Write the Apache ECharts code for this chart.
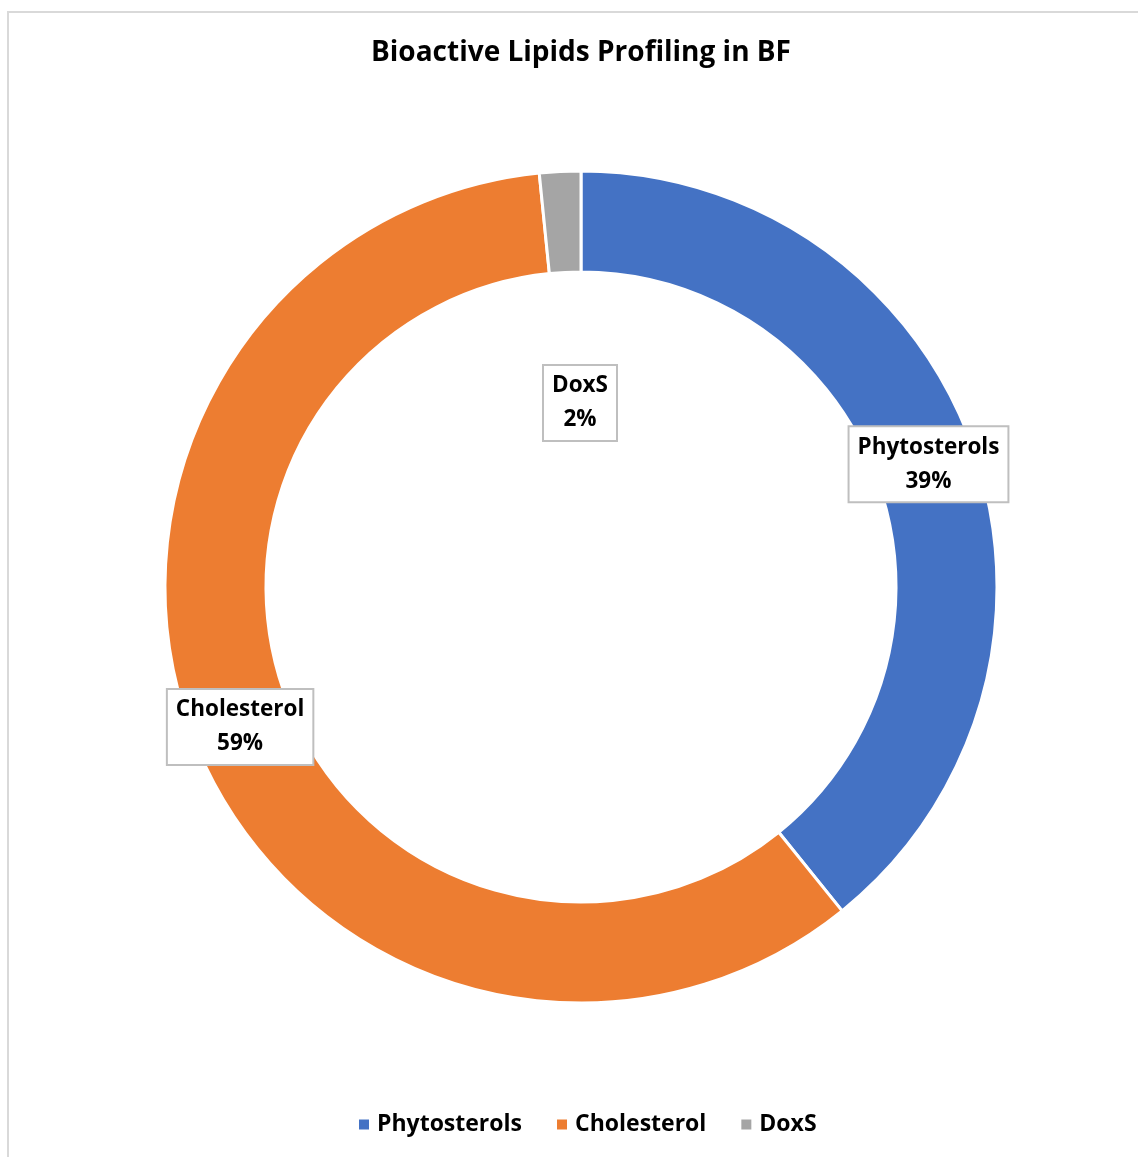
<!DOCTYPE html>
<html>
<head>
<meta charset="utf-8">
<script src="https://cdn.jsdelivr.net/npm/echarts@6/dist/echarts.min.js"></script>
<style>
html,body{margin:0;padding:0;background:#fff;}
#c{width:1138px;height:1157px;}
</style>
</head>
<body>
<div id="c"></div>
<script>
const title = 'Bioactive Lipids Profiling in BF';
const categories = ['Phytosterols', 'Cholesterol', 'DoxS'];
const values = [39.2, 59.2, 1.6];
const colors = ['#4472C4', '#ED7D31', '#A5A5A5'];

const FONT = '"Open Sans", Lato, sans-serif';
const chart = echarts.init(document.getElementById('c'), null, {renderer: 'canvas'});
const CX = 581, CY = 587, R = 416, R0 = 315;

chart.setOption({
  backgroundColor: '#ffffff',
  animation: false,
  graphic: [{
    type: 'rect',
    shape: {x: 8, y: 12, width: 1300, height: 1300},
    style: {fill: 'none', stroke: '#d9d9d9', lineWidth: 2},
    silent: true, z: -1
  }, {
    type: 'text',
    x: CX, y: 53,
    style: {
      text: title, x: 0, y: 0,
      align: 'center', verticalAlign: 'middle',
      font: 'bold 28px "Open Sans", Lato, sans-serif',
      fill: '#000'
    },
    silent: true
  }],
  legend: {
    data: categories,
    bottom: 16,
    left: 352,
    icon: 'rect',
    itemWidth: 12,
    itemHeight: 12,
    itemGap: 33,
    textStyle: {fontFamily: FONT, fontSize: 23, fontWeight: 'bold', color: '#000', padding: [0, 0, 0, 2]}
  },
  series: [{
    type: 'pie',
    center: [CX, CY],
    radius: [R0, R],
    startAngle: 90,
    clockwise: true,
    avoidLabelOverlap: false,
    itemStyle: {borderColor: '#fff', borderWidth: 3},
    label: {
      show: true,
      position: 'inside',
      formatter: p => p.name + '\n' + Math.round(p.percent) + '%',
      fontFamily: FONT,
      fontSize: 22.5,
      fontWeight: 'bold',
      color: '#000',
      lineHeight: 34,
      backgroundColor: '#fff',
      borderColor: '#bfbfbf',
      borderWidth: 2,
      padding: [3, 8, 3, 8]
    },
    labelLine: {show: false},
    labelLayout: function (params) {
      if (params.dataIndex === 2) {
        return {x: CX - 1, y: CY - 184};
      }
      return {};
    },
    data: categories.map((c, i) => ({name: c, value: values[i], itemStyle: {color: colors[i]}}))
  }]
});
</script>
</body>
</html>
